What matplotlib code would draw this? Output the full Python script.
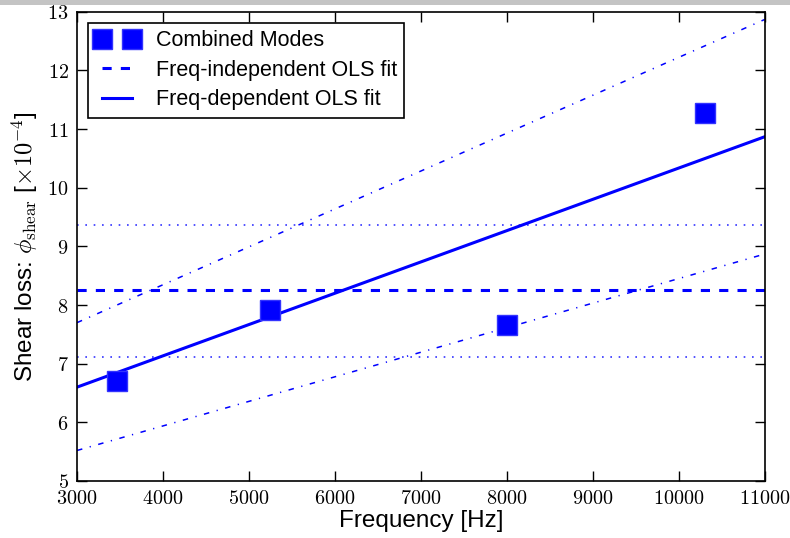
import matplotlib
matplotlib.use("Agg")
import matplotlib.pyplot as plt
from matplotlib.patches import Rectangle

# measured modes
freq = [3470, 5250, 8000, 10300]
loss = [6.70, 7.92, 7.66, 11.27]

# frequency-independent fit (mean and +/- band)
const_fit = 8.25
const_lo = 7.12
const_hi = 9.36

# frequency-dependent fit, read at the axis ends
fit_x = [3000, 11000]
fit_y = [6.60, 10.87]
fit_hi = [7.70, 12.87]
fit_lo = [5.52, 8.87]

plt.rcParams['mathtext.fontset'] = 'cm'
plt.rcParams['font.family'] = ['Liberation Sans', 'DejaVu Sans']

fig = plt.figure(figsize=(7.9, 5.38), dpi=100)
ax = fig.add_axes([0.0975, 0.106, 0.8705, 0.872])

# grey strip at the very top of the screenshot
fig.patches.append(Rectangle((0, 0.99), 1, 0.01, transform=fig.transFigure,
                             facecolor='#c4c4c4', edgecolor='none'))

ax.plot(freq, loss, 's', color='#0000ff', mec='#3333ff', ms=15,
        zorder=5, label="Combined Modes")
ax.axhline(const_fit, color='#0000ff', ls='--', lw=2.2, dashes=(3, 3),
           label="Freq-independent OLS fit")
ax.axhline(const_lo, color='#0000ff', ls=':', lw=1.2, dashes=(1, 4), alpha=0.8)
ax.axhline(const_hi, color='#0000ff', ls=':', lw=1.2, dashes=(1, 4), alpha=0.8)
ax.plot(fit_x, fit_y, color='#0000ff', lw=2.2, label="Freq-dependent OLS fit")
ax.plot(fit_x, fit_hi, color='#0000ff', lw=1.1, dashes=(3.6, 5, 0.8, 5))
ax.plot(fit_x, fit_lo, color='#0000ff', lw=1.1, dashes=(3.6, 5, 0.8, 5))

ax.set_xlim(3000, 11000)
ax.set_ylim(5, 13)
ax.set_xticks(range(3000, 11001, 1000))
ax.set_yticks(range(5, 14))
ax.set_xticklabels(["$%d$" % v for v in range(3000, 11001, 1000)])
ax.set_yticklabels(["$%d$" % v for v in range(5, 14)])
ax.tick_params(direction='in', top=True, right=True, length=7, width=1,
               labelsize=14.5, pad=6)
for s in ax.spines.values():
    s.set_linewidth(1.2)

ax.set_xlabel("Frequency [Hz]", fontsize=17.5, labelpad=1)
ax.set_ylabel(r"Shear loss: $\phi_{\rm shear}$ [$\times 10^{-4}$]", fontsize=17.5,
              labelpad=5)

leg = ax.legend(loc='upper left', numpoints=2, fontsize=15.5, fancybox=False,
                framealpha=1, edgecolor='black', borderaxespad=0.5,
                handlelength=2.0, borderpad=0.35, labelspacing=0.4)
leg.get_frame().set_linewidth(1.2)

fig.savefig("out.png", dpi=100)
